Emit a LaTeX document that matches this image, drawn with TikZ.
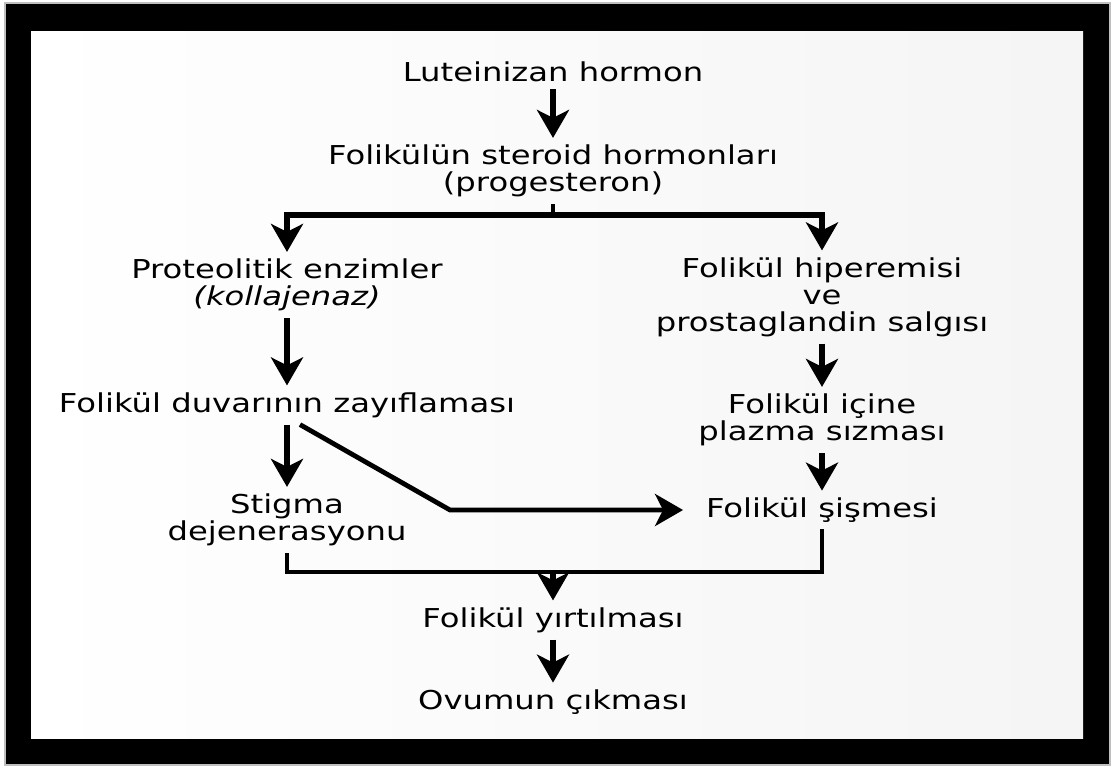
\documentclass[tikz,border=0pt]{standalone}
\usepackage{fontspec}
\usetikzlibrary{arrows.meta,positioning}
\newfontfamily\diafont[FakeStretch=1.24]{DejaVu Sans}

\begin{document}
\begin{tikzpicture}[x=0.5pt,y=-0.5pt,
    box/.style={font=\diafont\fontsize{13}{13.5}\selectfont, align=center, inner sep=0pt, outer sep=3.5pt},
    arr/.style={-{Stealth[length=14pt,width=16pt,inset=4pt]}, line width=2.7pt},
    link/.style={line width=2.4pt}]
    % frame and paper
    \useasboundingbox (0,0) rectangle (1114,767);
    \fill[black, draw=gray!50, line width=0.6pt] (5,3) rectangle (1110,765);
    \shade[left color=white, right color=gray!8] (31,31) rectangle (1083,738);
    % steps
    \node[box] (lh) at (553,72) {Luteinizan hormon};
    \node[box] (sh) [below of=lh, node distance=49.5pt] {Folikülün steroid hormonları\\(progesteron)};
    \node[box] (pe) at (287,285) {Proteolitik enzimler\\\textit{(kollajenaz)}};
    \node[box] (fh) at (822,297) {Folikül hiperemisi\\ve\\prostaglandin salgısı};
    \node[box] (fd) [below of=pe, node distance=60pt] {Folikül duvarının zayıflaması};
    \node[box] (sd) [below of=fd, node distance=57.5pt] {Stigma\\dejenerasyonu};
    \node[box] (fi) [below of=fh, node distance=61.5pt] {Folikül içine\\plazma sızması};
    \node[box] (fs) [below of=fi, node distance=45pt] {Folikül şişmesi};
    \node[box] (fy) [below of=sh, node distance=224.5pt] {Folikül yırtılması};
    \node[box] (oc) [below of=fy, node distance=41pt] {Ovumun çıkması};
    \coordinate (spl) at (553,215);
    \coordinate (bend) at (450,510);
    \coordinate (jn) at (553,572);
    % connectors
    \draw[arr] (lh) -- (sh);
    \draw[link] (sh) -- (spl);
    \draw[arr] (spl) -| (pe);
    \draw[arr] (spl) -| (fh);
    \draw[arr] (pe) -- (fd);
    \draw[arr] (fh) -- (fi);
    \draw[arr] (fd) -- (sd);
    \draw[arr] (fi) -- (fs);
    \draw[arr, line width=2.4pt, shorten >=8pt] ([xshift=6.5pt]fd.south) -- (bend) -- (fs);
    \draw[link] (sd) |- (jn) -| (fs);
    \draw[arr] (jn) -- (fy);
    \draw[arr] (fy) -- (oc);
\end{tikzpicture}
\end{document}
